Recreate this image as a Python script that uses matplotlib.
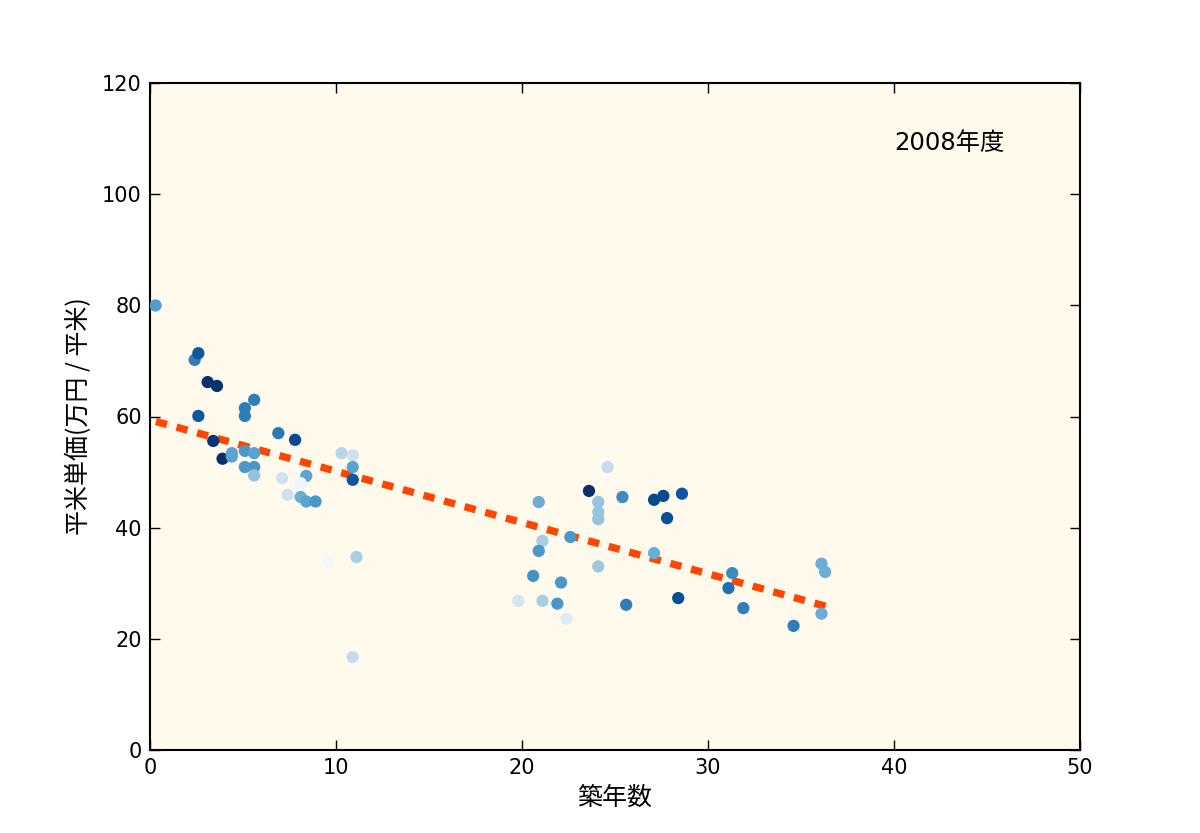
import matplotlib
matplotlib.use("Agg")
import matplotlib.pyplot as plt
import numpy as np

plt.rcParams['font.family'] = ['DejaVu Sans', 'Noto Sans CJK JP']

# building age (years)
age = [0.3, 2.4, 2.6, 2.6, 3.1, 3.6, 3.4, 3.9, 4.4, 4.4,
       5.1, 5.1, 5.6, 5.1, 5.6, 5.1, 5.6, 5.6, 6.9, 7.8,
       7.1, 7.4, 8.1, 8.4, 8.9, 8.4, 8.1, 9.6, 10.3, 10.9,
       10.9, 10.9, 11.1, 10.9,
       24.6, 23.6, 20.9, 24.1, 24.1, 24.1, 25.4, 27.1, 27.6, 28.6,
       27.8, 21.1, 20.9, 22.6, 27.1, 24.1, 20.6, 22.1, 19.8, 21.1,
       21.9, 22.4, 25.6, 28.4,
       31.3, 31.1, 31.9, 34.6, 36.1, 36.3, 36.1]
# price per square metre (10k yen / m2)
price = [80.0, 70.2, 71.4, 60.1, 66.2, 65.5, 55.6, 52.4, 53.4, 52.8,
         61.5, 60.1, 63.0, 53.8, 53.4, 50.9, 50.9, 49.4, 57.0, 55.8,
         48.9, 45.9, 45.5, 44.7, 44.7, 49.3, 48.0, 33.8, 53.4, 53.0,
         50.9, 48.6, 34.7, 16.7,
         50.9, 46.6, 44.6, 44.6, 42.8, 41.5, 45.5, 45.0, 45.7, 46.1,
         41.7, 37.6, 35.8, 38.3, 35.4, 33.0, 31.3, 30.1, 26.8, 26.8,
         26.3, 23.6, 26.1, 27.3,
         31.8, 29.1, 25.5, 22.3, 33.5, 32.0, 24.5]
# colour value (Blues colormap, 0..1)
shade = [0.58, 0.7, 0.85, 0.85, 1.0, 1.0, 0.98, 1.0, 0.55, 0.55,
         0.7, 0.7, 0.7, 0.6, 0.55, 0.6, 0.6, 0.4, 0.72, 0.9,
         0.2, 0.2, 0.5, 0.55, 0.6, 0.55, 0.05, 0.03, 0.3, 0.2,
         0.55, 0.85, 0.35, 0.25,
         0.25, 1.0, 0.5, 0.4, 0.4, 0.4, 0.65, 0.9, 0.9, 0.85,
         0.88, 0.35, 0.6, 0.6, 0.5, 0.38, 0.62, 0.6, 0.18, 0.35,
         0.6, 0.12, 0.7, 0.88,
         0.65, 0.75, 0.7, 0.7, 0.5, 0.5, 0.5]

# regression line end points
fit_x = [0.32, 36.36]
fit_y = [59.1, 25.8]

fig = plt.figure(figsize=(12, 8.33), dpi=100)
ax = fig.add_axes([0.125, 0.1, 0.775, 0.8])
ax.set_facecolor('#fffaeb')

ax.plot(fit_x, fit_y, color='#ff4500', lw=5.3, dashes=(1.55, 1.35),
        dash_capstyle='butt', zorder=2)
ax.scatter(age, price, c=shade, cmap='Blues', vmin=0, vmax=1,
           s=78, linewidths=0, zorder=3)

ax.set_xlim(0, 50)
ax.set_ylim(0, 120)
ax.set_xticks([0, 10, 20, 30, 40, 50])
ax.set_yticks([0, 20, 40, 60, 80, 100, 120])
ax.tick_params(direction='in', length=7, width=1, labelsize=15,
               top=True, right=True, pad=6)
for sp in ax.spines.values():
    sp.set_linewidth(1.5)

cjk = ['Noto Sans CJK JP', 'DejaVu Sans']
ax.set_xlabel('築年数', fontsize=18, family=cjk, labelpad=5)
ax.set_ylabel('平米単価(万円 / 平米)', fontsize=18, family=cjk, labelpad=7)
ax.text(40, 108, '2008年度', fontsize=17.5)

fig.savefig('out.png', dpi=100)
